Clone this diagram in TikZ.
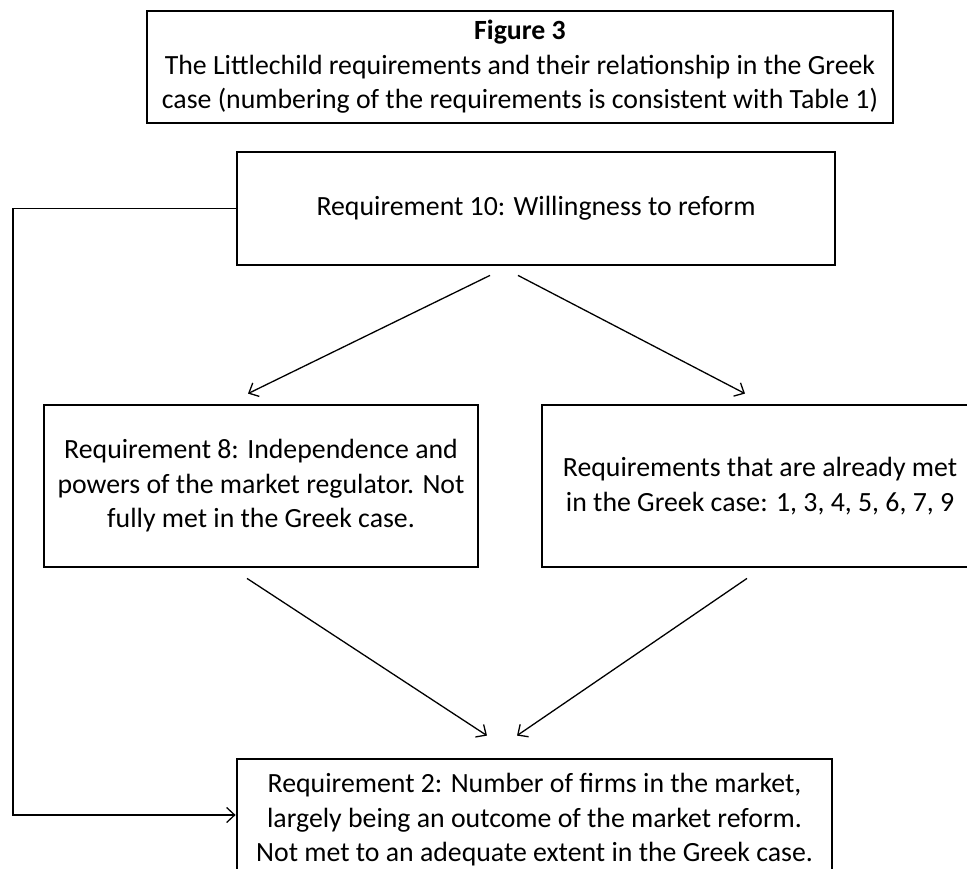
\documentclass[tikz,border=0pt]{standalone}
\usepackage{fontspec}
\setmainfont{Carlito}
\usetikzlibrary{arrows.meta,calc}
\tikzset{
  reqbox/.style={draw, line width=2.8pt, align=center, inner sep=0pt,
                 font=\fontsize{27.8}{34.5}\selectfont,
                 minimum width=#1},
  link/.style={line width=1.3pt, -{Straight Barb[length=8pt,width=15pt,line width=1.3pt]}},
}

\begin{document}
\begin{tikzpicture}[x=1pt, y=-1pt]
\useasboundingbox (0,0) rectangle (967,868);
\clip (0,0) rectangle (967,868);

% Title
\node[reqbox=746pt, minimum height=112pt] (title) at (520,67)
  {\textbf{Figure 3}\\The Littlechild requirements and their relationship in the Greek\\
   case (numbering of the requirements is consistent with Table 1)};

% Requirement boxes
\node[reqbox=598pt, minimum height=113pt] (req10) at (536,208.5)
  {Requirement 10: Willingness to reform};
\node[reqbox=434pt, minimum height=162pt] (req8) at (261,486)
  {Requirement 8: Independence and\\powers of the market regulator. Not\\fully met in the Greek case.};
\node[reqbox=436pt, minimum height=162pt] (met) at (760,486)
  {Requirements that are already met\\in the Greek case: 1, 3, 4, 5, 6, 7, 9};
\node[reqbox=595pt, minimum height=122pt] (req2) at (534.5,820)
  {Requirement 2: Number of firms in the market,\\largely being an outcome of the market reform.\\Not met to an adequate extent in the Greek case.};

% Arrows between boxes
\draw[link] ([shift={(-46,9)}]req10.south) -- ([shift={(-13,-10)}]req8.north);
\draw[link] ([shift={(-18,9)}]req10.south) -- ([shift={(-15,-10)}]met.north);
\draw[link] ([shift={(-14,10)}]req8.south) -- ([shift={(-47.5,-22)}]req2.north);
\draw[link] ([shift={(-13,10)}]met.south) -- ([shift={(-17.5,-22)}]req2.north);

% Feedback line on the left
\coordinate (fb) at (13,0);
\draw[link] (req10.west) -- (req10.west -| fb) |- ([yshift=5pt]req2.west);

\end{tikzpicture}
\end{document}
